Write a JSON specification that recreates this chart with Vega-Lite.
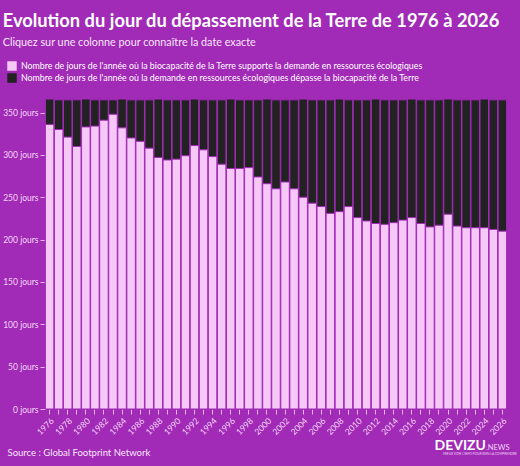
{
  "$schema": "https://vega.github.io/schema/vega-lite/v6.json",
  "width": 462,
  "height": 310,
  "autosize": {"type": "none"},
  "padding": {"left": 45, "top": 99, "right": 13, "bottom": 57},
  "background": "#a12ab6",
  "title": {
    "text": "Evolution du jour du dépassement de la Terre de 1976 à 2026",
    "subtitle": "Cliquez sur une colonne pour connaître la date exacte",
    "anchor": "start",
    "frame": "bounds",
    "font": "Lato",
    "fontSize": 18.3,
    "fontWeight": "bold",
    "color": "#ffffff",
    "subtitleFont": "Lato",
    "subtitleFontSize": 10.8,
    "subtitleColor": "#f7e6fa",
    "subtitlePadding": 6,
    "offset": 12
  },
  "data": {
    "values": [
      {"annee": 1976, "jour": 336, "total": 366},
      {"annee": 1977, "jour": 330, "total": 365},
      {"annee": 1978, "jour": 321, "total": 365},
      {"annee": 1979, "jour": 310, "total": 365},
      {"annee": 1980, "jour": 333, "total": 366},
      {"annee": 1981, "jour": 334, "total": 365},
      {"annee": 1982, "jour": 341, "total": 365},
      {"annee": 1983, "jour": 348, "total": 365},
      {"annee": 1984, "jour": 332, "total": 366},
      {"annee": 1985, "jour": 320, "total": 365},
      {"annee": 1986, "jour": 316, "total": 365},
      {"annee": 1987, "jour": 308, "total": 365},
      {"annee": 1988, "jour": 297, "total": 366},
      {"annee": 1989, "jour": 294, "total": 365},
      {"annee": 1990, "jour": 295, "total": 365},
      {"annee": 1991, "jour": 299, "total": 365},
      {"annee": 1992, "jour": 311, "total": 366},
      {"annee": 1993, "jour": 306, "total": 365},
      {"annee": 1994, "jour": 298, "total": 365},
      {"annee": 1995, "jour": 289, "total": 365},
      {"annee": 1996, "jour": 284, "total": 366},
      {"annee": 1997, "jour": 284, "total": 365},
      {"annee": 1998, "jour": 285, "total": 365},
      {"annee": 1999, "jour": 274, "total": 365},
      {"annee": 2000, "jour": 266, "total": 366},
      {"annee": 2001, "jour": 260, "total": 365},
      {"annee": 2002, "jour": 268, "total": 365},
      {"annee": 2003, "jour": 260, "total": 365},
      {"annee": 2004, "jour": 250, "total": 366},
      {"annee": 2005, "jour": 243, "total": 365},
      {"annee": 2006, "jour": 239, "total": 365},
      {"annee": 2007, "jour": 231, "total": 365},
      {"annee": 2008, "jour": 233, "total": 366},
      {"annee": 2009, "jour": 239, "total": 365},
      {"annee": 2010, "jour": 226, "total": 365},
      {"annee": 2011, "jour": 222, "total": 365},
      {"annee": 2012, "jour": 219, "total": 366},
      {"annee": 2013, "jour": 218, "total": 365},
      {"annee": 2014, "jour": 220, "total": 365},
      {"annee": 2015, "jour": 223, "total": 365},
      {"annee": 2016, "jour": 226, "total": 366},
      {"annee": 2017, "jour": 219, "total": 365},
      {"annee": 2018, "jour": 215, "total": 365},
      {"annee": 2019, "jour": 217, "total": 365},
      {"annee": 2020, "jour": 230, "total": 366},
      {"annee": 2021, "jour": 216, "total": 365},
      {"annee": 2022, "jour": 214, "total": 365},
      {"annee": 2023, "jour": 214, "total": 365},
      {"annee": 2024, "jour": 214, "total": 366},
      {"annee": 2025, "jour": 212, "total": 365},
      {"annee": 2026, "jour": 210, "total": 365}
    ]
  },
  "encoding": {
    "x": {
      "field": "annee",
      "type": "ordinal",
      "scale": {"paddingInner": 0.06, "paddingOuter": 0.04},
      "axis": {
        "title": "Source : Global Footprint Network",
        "titleFont": "Lato",
        "titleFontSize": 9.5,
        "titleFontWeight": "normal",
        "titleColor": "#f7e6fa",
        "titleAnchor": "start",
        "titleAlign": "left",
        "titleBaseline": "top",
        "titleX": -38,
        "titleY": 38,
        "labelExpr": "datum.value % 2 == 0 ? datum.label : ''",
        "labelAngle": -45,
        "labelFont": "Lato",
        "labelFontSize": 8.5,
        "labelColor": "#f3d6f6",
        "labelPadding": 2,
        "tickColor": "#e8b8ee",
        "tickSize": 5,
        "domain": false
      }
    }
  },
  "layer": [
    {
      "mark": {"type": "bar", "stroke": "#a12ab6", "strokeWidth": 1},
      "encoding": {
        "y": {
          "field": "total",
          "type": "quantitative",
          "scale": {"domain": [0, 366], "nice": false},
          "axis": {
            "title": null,
            "values": [0, 50, 100, 150, 200, 250, 300, 350],
            "labelExpr": "datum.value + ' jours'",
            "labelFont": "Lato",
            "labelFontSize": 8.5,
            "labelColor": "#f3d6f6",
            "labelPadding": 2,
            "tickColor": "#e8b8ee",
            "tickSize": 5,
            "domainColor": "#d98fe3",
            "grid": false
          }
        },
        "color": {
          "datum": "Nombre de jours de l'année où la demande en ressources écologiques dépasse la biocapacité de la Terre",
          "scale": {
            "domain": [
              "Nombre de jours de l'année où la biocapacité de la Terre supporte la demande en ressources écologiques",
              "Nombre de jours de l'année où la demande en ressources écologiques dépasse la biocapacité de la Terre"
            ],
            "range": ["#f6c8f8", "#222222"]
          }
        }
      }
    },
    {
      "mark": {"type": "bar", "stroke": "#a12ab6", "strokeWidth": 1},
      "encoding": {
        "y": {"field": "jour", "type": "quantitative"},
        "color": {
          "datum": "Nombre de jours de l'année où la biocapacité de la Terre supporte la demande en ressources écologiques"
        }
      }
    },
    {
      "data": {"values": [{"t": "DEVIZU"}]},
      "mark": {"type": "text", "font": "Lato", "fontWeight": "bold", "fontSize": 14, "color": "#ffffff", "align": "right", "baseline": "alphabetic"},
      "encoding": {"text": {"field": "t"}, "x": {"value": 441}, "y": {"value": 351}}
    },
    {
      "data": {"values": [{"t": ".NEWS"}]},
      "mark": {"type": "text", "font": "Lato", "fontSize": 7.5, "color": "#f3d6f6", "align": "left", "baseline": "alphabetic"},
      "encoding": {"text": {"field": "t"}, "x": {"value": 441}, "y": {"value": 351}}
    },
    {
      "data": {"values": [{"t": "MIEUX VOIR L'INFO POUR BIEN LA COMPRENDRE"}]},
      "mark": {"type": "text", "font": "Lato", "fontSize": 3.2, "color": "#f3d6f6", "align": "left", "baseline": "alphabetic"},
      "encoding": {"text": {"field": "t"}, "x": {"value": 398}, "y": {"value": 356}}
    }
  ],
  "resolve": {"scale": {"y": "shared"}},
  "config": {
    "view": {"stroke": null},
    "legend": {
      "orient": "none",
      "legendX": -38,
      "legendY": -38,
      "direction": "vertical",
      "title": null,
      "symbolType": "square",
      "symbolSize": 90,
      "symbolStrokeWidth": 0,
      "symbolOpacity": 1,
      "rowPadding": 2,
      "labelOffset": 4,
      "labelFont": "Lato",
      "labelFontSize": 8.8,
      "labelColor": "#ffffff",
      "labelLimit": 600
    }
  }
}
